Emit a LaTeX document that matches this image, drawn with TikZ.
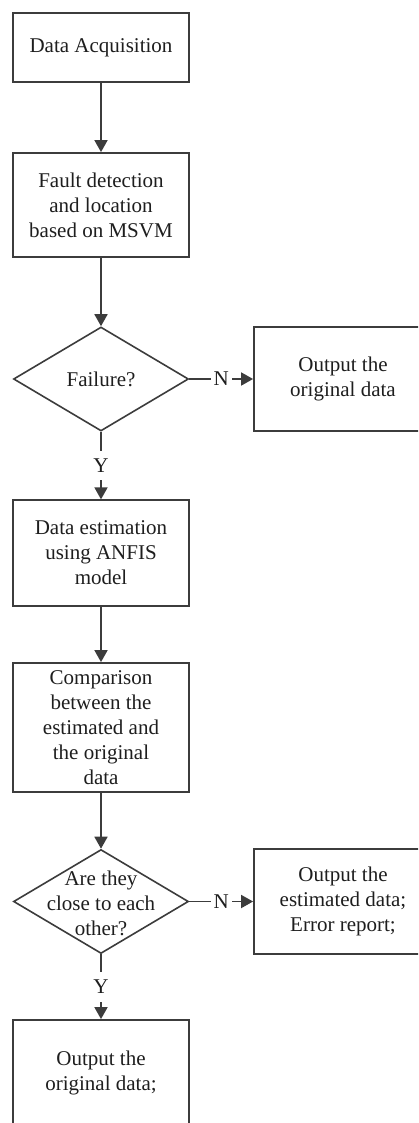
\documentclass[tikz,border=0pt]{standalone}
\usepackage{fontspec}
\setmainfont{Liberation Serif}
\usetikzlibrary{arrows.meta,shapes.geometric}
\definecolor{ln}{RGB}{60,60,60}
\definecolor{tx}{RGB}{30,30,30}
\tikzset{
  every node/.style={text=tx, font=\fontsize{21}{25}\selectfont},
  procbox/.style={draw=ln, line width=1.8pt, rectangle, align=center, inner sep=0pt},
  dia/.style={draw=ln, line width=1.6pt, diamond, inner sep=0pt, minimum width=175pt, minimum height=104pt},
  diatext/.style={align=center, inner sep=0pt},
  flow/.style={draw=ln, line width=1.8pt, -{Triangle[length=12pt,width=13pt]}},
  lab/.style={fill=white, inner xsep=3pt, inner ysep=2pt},
  laby/.style={fill=white, inner xsep=3pt, inner ysep=8pt}
}
\begin{document}
\begin{tikzpicture}[x=1pt,y=-1pt]
\useasboundingbox (0,0) rectangle (418,1123);
\clip (0,0) rectangle (418,1123);
\node[procbox, minimum width=175.5pt, minimum height=69pt] (b1) at (101,47.5) {Data Acquisition};
\node[procbox, minimum width=175.5pt, minimum height=104pt] (b2) at (101,205) {Fault detection\\and location\\based on MSVM};
\node[dia] (d1) at (101,379) {};
\node[diatext] (d1t) at (d1.center) {Failure?};
\node[procbox, minimum width=178pt, minimum height=104pt] (b3) at (343,379) {Output the\\original data};
\node[procbox, minimum width=175.5pt, minimum height=105.5pt] (b4) at (101,553) {Data estimation\\using ANFIS\\model};
\node[procbox, minimum width=175.5pt, minimum height=129pt] (b5) at (101,727.5) {Comparison\\between the\\estimated and\\the original\\data};
\node[dia] (d2) at (101,901.5) {};
\node[diatext] (d2t) at (101,903) {Are they\\close to each\\other?};
\node[procbox, minimum width=178pt, minimum height=105pt] (b6) at (343,901.5) {Output the\\estimated data;\\Error report;};
\node[procbox, minimum width=175.5pt, minimum height=105pt] (b7) at (101,1072.5) {Output the\\original data;};

\draw[flow] (b1.south) -- (b2.north);
\draw[flow] (b2.south) -- (d1.north);
\draw[flow] (d1.east) -- node[lab] (n1) {N} (b3.west);
\draw[flow] (d1.south) -- node[laby] (y1) {Y} (b4.north);
\draw[flow] (b4.south) -- (b5.north);
\draw[flow] (b5.south) -- (d2.north);
\draw[flow] (d2.east) -- node[lab] (n2) {N} (b6.west);
\draw[flow] (d2.south) -- node[laby] (y2) {Y} (b7.north);
\end{tikzpicture}
\end{document}
